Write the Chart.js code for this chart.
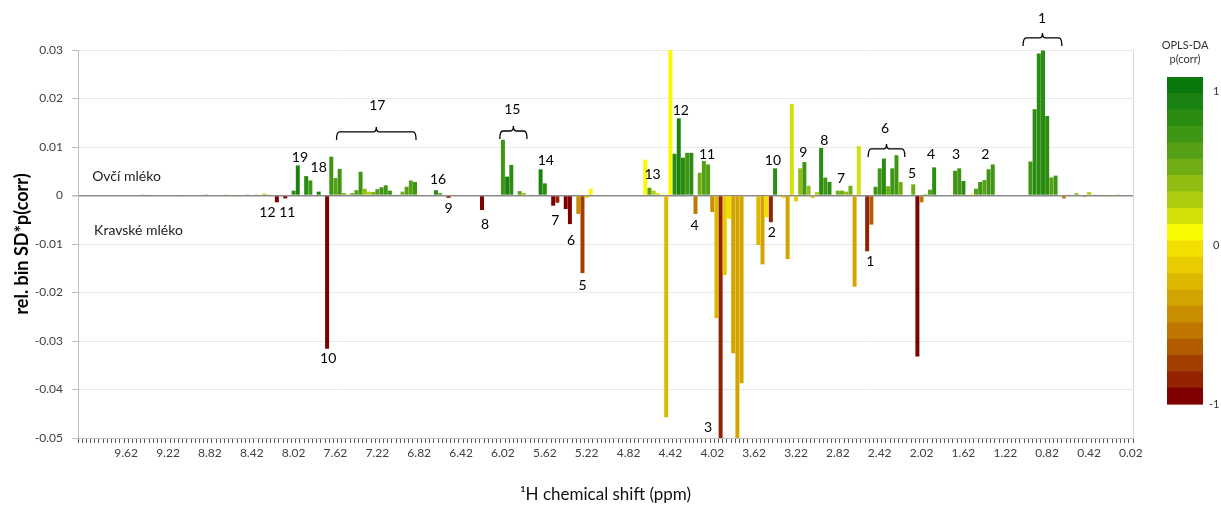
<!DOCTYPE html>
<html>
<head>
<meta charset="utf-8">
<title>OPLS-DA p(corr) – 1H NMR</title>
<script src="https://cdn.jsdelivr.net/npm/chart.js@4.4.1/dist/chart.umd.min.js"></script>
<style>
  html, body { margin: 0; padding: 0; background: #fff; }
  canvas { display: block; }
</style>
</head>
<body>
<canvas id="chart" width="1221" height="508"></canvas>
<script>
// 0.04 ppm bins from 10.06 ppm down to 0.02 ppm
const binStart = 10.06;
const binStep = 0.04;
const binCount = 252;
const labelEvery = 10;          // labelled bins: 9.62, 9.22, ... 0.02
const firstLabelled = 11;

// Bins with a non-zero loading (ppm, rel. bin SD * p(corr), p(corr))
const peakShifts = [
  9.46, 9.10, 8.86, 8.66, 8.58, 8.46, 8.38, 8.30, 8.26, 8.18, 8.10, 8.02, 7.98, 7.90, 7.86, 7.78,
  7.70, 7.66, 7.62, 7.58, 7.54, 7.50, 7.46, 7.42, 7.38, 7.34, 7.30, 7.26, 7.22, 7.18, 7.14, 7.10,
  7.06, 7.02, 6.98, 6.94, 6.90, 6.86, 6.82, 6.66, 6.62, 6.54, 6.22, 6.02, 5.98, 5.94, 5.86, 5.82,
  5.74, 5.66, 5.62, 5.54, 5.50, 5.42, 5.38, 5.30, 5.26, 5.22, 5.18, 4.66, 4.62, 4.58, 4.54, 4.50,
  4.46, 4.42, 4.38, 4.34, 4.30, 4.26, 4.22, 4.18, 4.14, 4.10, 4.06, 4.02, 3.98, 3.94, 3.90, 3.86,
  3.82, 3.78, 3.74, 3.58, 3.54, 3.50, 3.46, 3.42, 3.38, 3.34, 3.30, 3.26, 3.22, 3.18, 3.14, 3.10,
  3.06, 3.02, 2.98, 2.94, 2.90, 2.86, 2.82, 2.78, 2.74, 2.70, 2.66, 2.62, 2.54, 2.50, 2.46, 2.42,
  2.38, 2.34, 2.30, 2.26, 2.22, 2.10, 2.06, 2.02, 1.98, 1.94, 1.90, 1.70, 1.66, 1.62, 1.54, 1.50,
  1.46, 1.42, 1.38, 1.34, 0.98, 0.94, 0.90, 0.86, 0.82, 0.78, 0.74, 0.66, 0.62, 0.54, 0.46, 0.42,
  0.38, 0.30, 0.22, 0.14
];
const peakValues = [
  0.0001, -0.0001, 0.0001, 0.0002, -0.0001, 0.0002, 0.0001, 0.0004, 0.0002, -0.0014, -0.0006, 0.0010, 0.0062, 0.0040, 0.0031, 0.0008,
  -0.0316, 0.0080, 0.0036, 0.0055, 0.0005, 0.0002, 0.0005, 0.0011, 0.0049, 0.0014, 0.0008, 0.0007, 0.0013, 0.0017, 0.0021, 0.0010,
  0.0002, 0.0002, 0.0008, 0.0018, 0.0031, 0.0028, 0.0002, 0.0011, 0.0005, -0.0005, -0.0030, 0.0115, 0.0039, 0.0063, 0.0009, 0.0005,
  0.0002, 0.0054, 0.0025, -0.0021, -0.0015, -0.0028, -0.0059, -0.0038, -0.0160, -0.0005, 0.0014, 0.0074, 0.0016, 0.0010, 0.0005, 0.0002,
  -0.0457, 0.0305, 0.0086, 0.0159, 0.0078, 0.0088, 0.0088, -0.0038, 0.0047, 0.0071, 0.0064, -0.0034, -0.0253, -0.0520, -0.0164, -0.0048,
  -0.0325, -0.0510, -0.0387, -0.0102, -0.0142, -0.0045, -0.0055, 0.0056, 0.0002, -0.0005, -0.0131, 0.0189, -0.0012, 0.0056, 0.0069, 0.0020,
  -0.0005, 0.0007, 0.0098, 0.0037, 0.0028, 0.0002, 0.0010, 0.0010, 0.0008, 0.0020, -0.0188, 0.0102, -0.0115, -0.0060, 0.0018, 0.0056,
  0.0076, 0.0019, 0.0056, 0.0083, 0.0028, 0.0023, -0.0332, -0.0014, 0.0003, 0.0012, 0.0058, 0.0051, 0.0056, 0.0030, 0.0003, 0.0014,
  0.0028, 0.0032, 0.0054, 0.0064, 0.0070, 0.0178, 0.0293, 0.0299, 0.0164, 0.0037, 0.0041, -0.0006, 0.0002, 0.0005, -0.0003, 0.0007,
  0.0001, 0.0002, -0.0001, 0.0001
];
const peakCorr = [
  0.4, -0.3, 0.5, 0.6, -0.2, 0.7, 0.4, 0.25, 0.6, -0.95, -0.9, 0.75, 0.85, 0.8, 0.7, 0.85,
  -0.95, 0.65, 0.6, 0.7, 0.5, 0.5, 0.5, 0.6, 0.7, 0.4, 0.25, 0.5, 0.6, 0.65, 0.7, 0.7,
  0.4, 0.4, 0.5, 0.55, 0.6, 0.65, 0.4, 0.8, 0.6, -0.85, -0.95, 0.7, 0.85, 0.8, 0.55, 0.4,
  0.4, 0.85, 0.8, -0.9, -0.85, -0.9, -0.95, -0.45, -0.75, -0.1, 0.1, 0.05, 0.55, 0.3, 0.2, 0.1,
  -0.2, 0.05, 0.75, 0.85, 0.75, 0.7, 0.75, -0.55, 0.45, 0.55, 0.6, -0.45, -0.25, -0.8, -0.15, -0.05,
  -0.3, -0.35, -0.35, -0.2, -0.3, -0.05, -0.85, 0.75, 0.1, -0.15, -0.3, 0.15, -0.1, 0.35, 0.7, 0.4,
  -0.2, 0.3, 0.8, 0.7, 0.75, 0.3, 0.45, 0.45, 0.4, 0.45, -0.35, 0.15, -0.85, -0.65, 0.65, 0.7,
  0.8, 0.45, 0.65, 0.7, 0.5, 0.5, -0.95, -0.5, 0.3, 0.6, 0.75, 0.7, 0.7, 0.75, 0.1, 0.6,
  0.65, 0.6, 0.65, 0.7, 0.7, 0.72, 0.75, 0.75, 0.72, 0.55, 0.7, -0.5, 0.3, 0.4, -0.4, 0.25,
  0.3, 0.2, -0.3, 0.3
];

// Colour scale for p(corr): 20 steps from +1 (top) to -1 (bottom)
const corrColors = [
  '#0a780a', '#1a8210', '#2b8c12', '#3f9614', '#55a014',
  '#70ad14', '#8fbd12', '#aecd0e', '#d2e208', '#fafa00',
  '#f2df00', '#e8cc00', '#ddb800', '#d3a400', '#c98e00',
  '#be7600', '#b25c00', '#a33e00', '#922200', '#800000'
];

// Signal numbers (ppm, y level) – upper half sheep milk, lower half cow milk
const noteText  = ['1', '17', '15', '6', '19', '18', '16', '14', '13', '12', '11', '10', '9', '8', '7', '5', '4', '3', '2',
                   '12', '11', '10', '9', '8', '7', '6', '5', '4', '3', '2', '1'];
const noteShift = [0.87, 7.22, 5.93, 2.37, 7.96, 7.78, 6.64, 5.61, 4.59, 4.32, 4.07, 3.44, 3.15, 2.95, 2.79, 2.11, 1.93, 1.69, 1.41,
                   8.27, 8.08, 7.69, 6.54, 6.19, 5.52, 5.37, 5.26, 4.19, 4.06, 3.45, 2.51];
const noteLevel = [0.0365, 0.0186, 0.0177, 0.0138, 0.0078, 0.0058, 0.0032, 0.0072, 0.0044, 0.0175, 0.0085, 0.0072, 0.0089, 0.0113, 0.0035, 0.0045, 0.0085, 0.0085, 0.0085,
                   -0.0035, -0.0035, -0.0336, -0.0027, -0.0060, -0.0052, -0.0093, -0.0186, -0.0062, -0.0478, -0.0076, -0.0136];

// Braces grouping several bins: [from ppm, to ppm, level]
const braceFrom  = [1.05, 7.61, 6.05, 2.53];
const braceTo    = [0.68, 6.85, 5.79, 2.18];
const braceLevel = [0.0325, 0.0131, 0.0133, 0.0096];

const groupText  = ['Ovčí mléko', 'Kravské mléko'];
const groupShift = [9.945, 9.926];
const groupLevel = [0.0039, -0.0072];

// ---- build the bin table ----
const binLabels = [];
for (let i = 0; i < binCount; i++) binLabels.push((binStart - i * binStep).toFixed(2));
const binValues = new Array(binCount).fill(0);
const binCorr = new Array(binCount).fill(0);
peakShifts.forEach((s, k) => {
  const idx = Math.round((binStart - s) / binStep);
  binValues[idx] = peakValues[k];
  binCorr[idx] = peakCorr[k];
});
const colorFor = p => corrColors[Math.max(0, Math.min(19, Math.floor((1 - p) / 0.1 + 1e-9)))];

const FONT = 'Lato, "Open Sans", "DejaVu Sans", sans-serif';

const notesPlugin = {
  id: 'notes',
  afterDraw(chart) {
    const { ctx, scales: { x, y }, chartArea } = chart;
    const px = ppm => x.getPixelForValue((binStart - ppm) / binStep);
    ctx.save();
    // right frame of the plot area
    ctx.strokeStyle = '#d9d9d9';
    ctx.lineWidth = 1;
    ctx.beginPath();
    ctx.moveTo(Math.round(chartArea.right) + 0.5, chartArea.top);
    ctx.lineTo(Math.round(chartArea.right) + 0.5, chartArea.bottom);
    ctx.stroke();

    ctx.fillStyle = '#000';
    ctx.textAlign = 'center';
    ctx.textBaseline = 'middle';
    ctx.font = '14px ' + FONT;
    noteText.forEach((t, k) => ctx.fillText(t, px(noteShift[k]), y.getPixelForValue(noteLevel[k])));

    ctx.textAlign = 'left';
    ctx.font = '14px ' + FONT;
    ctx.fillStyle = '#222';
    groupText.forEach((t, k) => ctx.fillText(t, px(groupShift[k]), y.getPixelForValue(groupLevel[k])));

    // braces
    ctx.strokeStyle = '#000';
    ctx.lineWidth = 1.3;
    braceFrom.forEach((f, k) => {
      const x1 = px(f), x2 = px(braceTo[k]), yy = y.getPixelForValue(braceLevel[k]);
      const xm = (x1 + x2) / 2, r = 3;
      ctx.beginPath();
      ctx.moveTo(x1, yy + 8);
      ctx.quadraticCurveTo(x1, yy, x1 + r, yy);
      ctx.lineTo(xm - r, yy);
      ctx.quadraticCurveTo(xm, yy, xm, yy - 5);
      ctx.quadraticCurveTo(xm, yy, xm + r, yy);
      ctx.lineTo(x2 - r, yy);
      ctx.quadraticCurveTo(x2, yy, x2, yy + 8);
      ctx.stroke();
    });

    // colour bar for p(corr)
    const cbX = 1167, cbW = 36, cbTop = 77, cbH = 327;
    const step = cbH / corrColors.length;
    corrColors.forEach((c, k) => {
      ctx.fillStyle = c;
      ctx.fillRect(cbX, cbTop + k * step, cbW, step + 0.6);
    });
    ctx.fillStyle = '#333';
    ctx.textAlign = 'center';
    ctx.font = '11px ' + FONT;
    ctx.fillText('OPLS-DA', cbX + cbW / 2, 45);
    ctx.fillText('p(corr)', cbX + cbW / 2, 59);
    ctx.textAlign = 'left';
    ctx.fillText('1', cbX + cbW + 10, cbTop + 14);
    ctx.fillText('0', cbX + cbW + 10, cbTop + cbH * 0.515);
    ctx.fillText('-1', cbX + cbW + 6, cbTop + cbH);
    ctx.restore();
  }
};

new Chart(document.getElementById('chart'), {
  type: 'bar',
  data: {
    labels: binLabels,
    datasets: [{
      data: binValues,
      backgroundColor: binCorr.map(colorFor),
      borderWidth: 0,
      barPercentage: 0.95,
      categoryPercentage: 1
    }]
  },
  options: {
    responsive: false,
    animation: false,
    devicePixelRatio: 1,
    layout: { padding: { left: 0, right: 88, top: 50, bottom: 0 } },
    plugins: { legend: { display: false }, tooltip: { enabled: false } },
    scales: {
      x: {
        type: 'category',
        offset: true,
        afterFit: s => { s.height = 70; },
        grid: {
          display: true, drawOnChartArea: false, drawTicks: true, tickLength: 5,
          tickColor: '#555', tickWidth: 1, offset: true
        },
        border: { display: true, color: '#bfbfbf' },
        ticks: {
          autoSkip: false, maxRotation: 0, minRotation: 0, padding: 3,
          color: '#404040', font: { family: FONT, size: 12 },
          callback(v, i) {
            return i >= firstLabelled && (i - firstLabelled) % labelEvery === 0 ? this.getLabelForValue(v) : '';
          }
        },
        title: {
          display: true, text: '\u00B9H chemical shift (ppm)', color: '#111',
          font: { family: FONT, size: 17 }, padding: { top: 0, bottom: 3 }
        }
      },
      y: {
        min: -0.05, max: 0.03,
        afterFit: s => { s.width = 78; },
        ticks: {
          stepSize: 0.01, padding: 9, color: '#404040', font: { family: FONT, size: 12 },
          callback: v => String(Math.round(v * 100) / 100)
        },
        grid: {
          drawTicks: true, tickLength: 6, tickColor: '#bfbfbf',
          color: c => (Math.abs(c.tick.value) < 1e-9 ? '#8a8a8a' : '#e8e8e8'),
          lineWidth: c => (Math.abs(c.tick.value) < 1e-9 ? 1.6 : 1)
        },
        border: { display: true, color: '#bfbfbf' },
        title: {
          display: true, text: 'rel. bin SD*p(corr)', color: '#000',
          font: { family: FONT, size: 18, weight: 'bold' }, padding: { top: 11, bottom: 0 }
        }
      }
    }
  },
  plugins: [notesPlugin]
});
</script>
</body>
</html>
